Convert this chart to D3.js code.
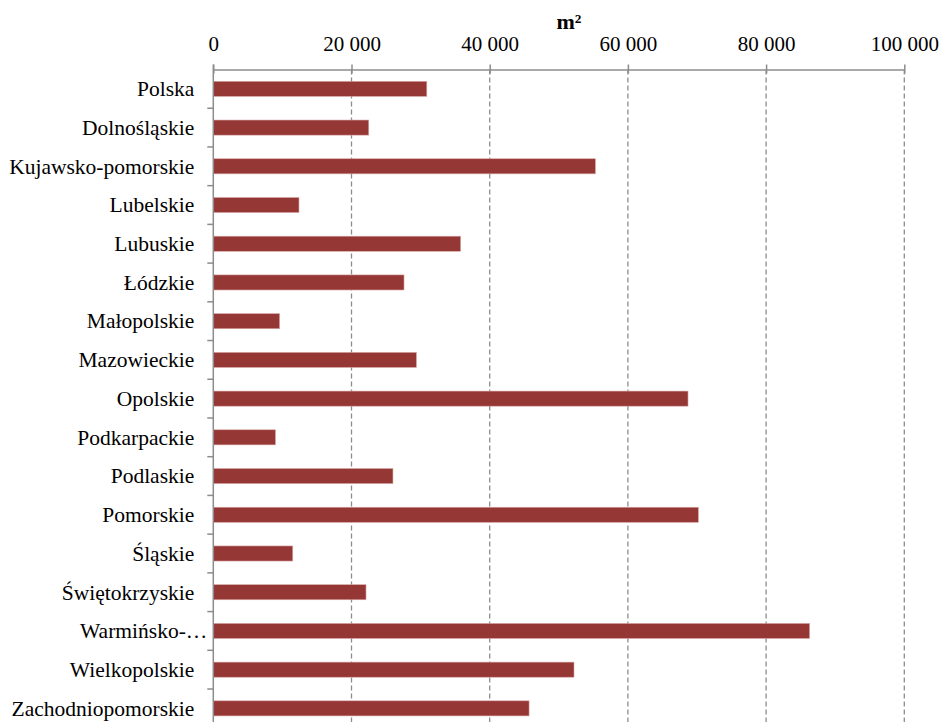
<!DOCTYPE html>
<html>
<head>
<meta charset="utf-8">
<script src="https://cdn.jsdelivr.net/npm/d3@7"></script>
<style>
  html, body { margin: 0; padding: 0; background: #fff; }
  svg text { font-family: "Liberation Serif", "Times New Roman", Times, serif; }
</style>
</head>
<body>
<svg id="chart" width="941" height="722"></svg>
<script>
// Regions (voivodeships) and the national total
const categories = [
  "Polska", "Dolnośląskie", "Kujawsko-pomorskie", "Lubelskie", "Lubuskie",
  "Łódzkie", "Małopolskie", "Mazowieckie", "Opolskie", "Podkarpackie",
  "Podlaskie", "Pomorskie", "Śląskie", "Świętokrzyskie", "Warmińsko-…",
  "Wielkopolskie", "Zachodniopomorskie"
];
// Area in m²
const values = [
  30900, 22500, 55300, 12400, 35800,
  27600, 9600, 29400, 68700, 9000,
  26000, 70200, 11500, 22100, 86300,
  52200, 45700
];
const tickValues = [0, 20000, 40000, 60000, 80000, 100000];
const tickLabels = ["0", "20 000", "40 000", "60 000", "80 000", "100 000"];
const axisTitle = "m²";

const svg = d3.select("#chart");
const margin = { left: 213.3, top: 69.5 };
const plotW = 691;
const band = 38.72;
const plotH = band * categories.length;
const labelSize = "21.5px";
const tickSize = "21px";

const x = d3.scaleLinear().domain([0, 100000]).range([margin.left, margin.left + plotW]);
const y = d3.scaleBand().domain(categories).range([margin.top, margin.top + plotH])
  .paddingInner(0.61).paddingOuter(0.305);

const axisColor = "#8c8c8c";

// dashed vertical gridlines
svg.append("g")
  .selectAll("line")
  .data(tickValues.slice(1))
  .join("line")
  .attr("x1", d => x(d)).attr("x2", d => x(d))
  .attr("y1", margin.top).attr("y2", margin.top + plotH)
  .attr("stroke", axisColor)
  .attr("stroke-width", 1.3)
  .attr("stroke-dasharray", "5,3");

// bars
svg.append("g")
  .selectAll("rect")
  .data(values)
  .join("rect")
  .attr("x", x(0))
  .attr("y", (d, i) => y(categories[i]))
  .attr("width", d => x(d) - x(0))
  .attr("height", y.bandwidth())
  .attr("fill", "#953735")
  .attr("stroke", "#d9a9a8")
  .attr("stroke-width", 0.6);

// top value axis
const xAxis = d3.axisTop(x)
  .tickValues(tickValues)
  .tickFormat((d, i) => tickLabels[i])
  .tickSize(5)
  .tickSizeOuter(0);
const gx = svg.append("g").attr("transform", `translate(0,${margin.top})`).call(xAxis)
  .attr("font-family", null).attr("font-size", tickSize);
gx.select(".domain").attr("stroke", axisColor).attr("stroke-width", 1.5);
gx.selectAll(".tick line").attr("stroke", axisColor).attr("stroke-width", 1.5).attr("y2", 4).attr("y1", -5);
gx.selectAll(".tick text").attr("fill", "#000").attr("y", -19).attr("dy", 0);

// category axis with boundary ticks between bands
svg.append("line")
  .attr("x1", x(0)).attr("x2", x(0))
  .attr("y1", margin.top - 5).attr("y2", margin.top + plotH)
  .attr("stroke", axisColor).attr("stroke-width", 1.5);
svg.append("g")
  .selectAll("line")
  .data(d3.range(1, categories.length))
  .join("line")
  .attr("x1", x(0) - 6).attr("x2", x(0))
  .attr("y1", i => margin.top + i * band).attr("y2", i => margin.top + i * band)
  .attr("stroke", axisColor).attr("stroke-width", 1.5);

const gy = svg.append("g").attr("transform", `translate(${x(0)},0)`)
  .call(d3.axisLeft(y).tickSize(0))
  .attr("font-family", null).attr("font-size", labelSize);
gy.select(".domain").remove();
gy.selectAll(".tick text")
  .attr("fill", "#000")
  .attr("dy", "0.34em")
  .attr("x", d => d.endsWith("…") ? -6 : -19);

// axis title
svg.append("text")
  .attr("x", 569).attr("y", 29)
  .attr("text-anchor", "middle")
  .attr("font-size", "22px")
  .attr("font-weight", "bold")
  .text(axisTitle);
</script>
</body>
</html>
